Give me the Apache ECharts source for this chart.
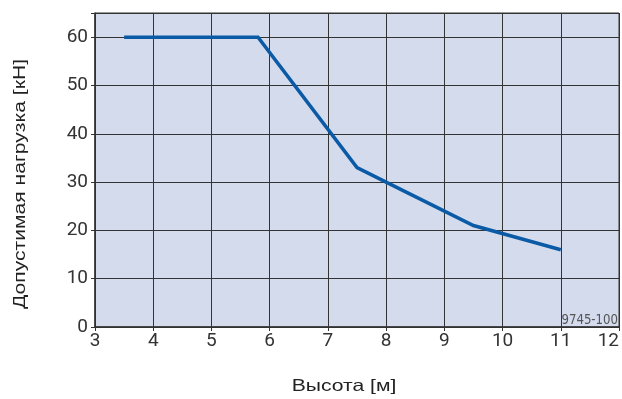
<!DOCTYPE html>
<html>
<head>
<meta charset="utf-8">
<script src="https://cdn.jsdelivr.net/npm/echarts@6/dist/echarts.min.js"></script>
<style>
  html, body { margin: 0; padding: 0; background: #fff; }
  #chart { width: 622px; height: 399px; }
</style>
</head>
<body>
<div id="chart"></div>
<script>
// Permissible load vs. height
const heights = [3.5, 5.8, 7.5, 8, 9.5, 11];
const loads = [60, 60, 33, 30, 21, 16];

const xTicks = [3, 4, 5, 6, 7, 8, 9, 10, 11, 12];
const yTicks = [0, 10, 20, 30, 40, 50, 60];

const xName = 'Высота [м]';
const yName = 'Допустимая нагрузка [кН]';
const drawingCode = '9745-100';

const tickFont = 'Roboto, "Noto Sans", sans-serif';
const titleFont = '"Liberation Sans", Arial, sans-serif';
const chart = echarts.init(document.getElementById('chart'), null, { renderer: 'canvas' });

chart.setOption({
  animation: false,
  grid: {
    left: 95, right: 3, top: 13, bottom: 72,
    outerBoundsMode: 'none', containLabel: false,
    show: true, backgroundColor: '#d3dbed', borderColor: '#333', borderWidth: 1
  },
  xAxis: {
    type: 'value', min: 3, max: 12, interval: 1,
    axisLine: { show: true, lineStyle: { color: '#333', width: 1.5 } },
    axisTick: { show: true, length: 4, lineStyle: { color: '#333' } },
    axisLabel: {
      fontFamily: tickFont, fontSize: 19, color: '#333', margin: 5,
      alignMaxLabel: 'right',
      formatter: v => (xTicks.indexOf(v) >= 0 ? String(v) : '')
    },
    splitLine: { show: true, lineStyle: { color: '#333', width: 1 } }
  },
  yAxis: {
    type: 'value', min: 0, max: 65, interval: 10,
    axisLine: { show: true, lineStyle: { color: '#333', width: 1.5 } },
    axisTick: { show: true, length: 4, lineStyle: { color: '#333' } },
    axisLabel: {
      fontFamily: tickFont, fontSize: 19, color: '#333', margin: 7,
      formatter: v => (yTicks.indexOf(v) >= 0 ? String(v) : '')
    },
    splitLine: { show: true, lineStyle: { color: '#333', width: 1 } }
  },
  series: [{
    type: 'line',
    data: heights.map((h, i) => [h, loads[i]]),
    showSymbol: false,
    lineStyle: { color: '#0b5aa6', width: 3.5, cap: 'butt', join: 'miter' },
    z: 5
  }],
  graphic: [
    {
      type: 'text',
      x: 344, y: 386, scaleX: 1.28,
      style: {
        text: xName, font: '16.5px ' + titleFont, fill: '#222',
        align: 'center', verticalAlign: 'middle'
      }
    },
    {
      type: 'text',
      x: 20, y: 184, rotation: Math.PI / 2, scaleX: 1.28,
      style: {
        text: yName, font: '16.5px ' + titleFont, fill: '#222',
        align: 'center', verticalAlign: 'middle'
      }
    },
    {
      type: 'text',
      x: 618, y: 328, scaleX: 0.9,
      style: {
        text: drawingCode,
        font: '14.5px "Liberation Sans Narrow", "DejaVu Sans Condensed", sans-serif',
        fill: '#555', align: 'right', verticalAlign: 'bottom'
      },
      z: 10
    }
  ]
});
</script>
</body>
</html>
